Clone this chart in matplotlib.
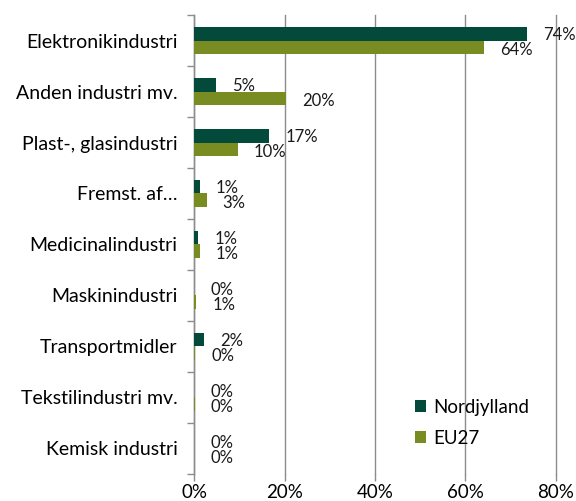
import matplotlib
matplotlib.use("Agg")
import matplotlib.pyplot as plt
import numpy as np
from matplotlib.ticker import FuncFormatter, FixedLocator

categories = ["Elektronikindustri", "Anden industri mv.", "Plast-, glasindustri",
              "Fremst. af…", "Medicinalindustri", "Maskinindustri",
              "Transportmidler", "Tekstilindustri mv.", "Kemisk industri"]
nordjylland = [73.6, 4.9, 16.6, 1.2, 0.9, 0.0, 2.2, 0.0, 0.0]
eu27 = [64.2, 20.4, 9.7, 2.8, 1.2, 0.5, 0.3, 0.2, 0.0]
nord_labels = ["74%", "5%", "17%", "1%", "1%", "0%", "2%", "0%", "0%"]
eu_labels = ["64%", "20%", "10%", "3%", "1%", "1%", "0%", "0%", "0%"]
xticks = [0, 20, 40, 60, 80]

plt.rcParams['font.family'] = ['Lato', 'DejaVu Sans']
dark = "#044A3A"
olive = "#798C22"
grid = "#8C8C8C"

fig = plt.figure(figsize=(5.76, 5.01), dpi=100)
ax = fig.add_axes([0.337, 0.054, 0.628, 0.916])

n = len(categories)
y = np.arange(n)
h = 0.27
ax.barh(y - h/2, nordjylland, height=h, color=dark, linewidth=0, label="Nordjylland", zorder=3)
ax.barh(y + h/2, eu27, height=h, color=olive, linewidth=0, label="EU27", zorder=3)

for i in range(n):
    ax.annotate(nord_labels[i], (nordjylland[i], y[i] - h/2 + 0.02), xytext=(11.5, 0),
                textcoords="offset points", va="center", ha="left", fontsize=12, color="#1a1a1a")
    ax.annotate(eu_labels[i], (eu27[i], y[i] + h/2 + 0.05), xytext=(11.5, 0),
                textcoords="offset points", va="center", ha="left", fontsize=12, color="#1a1a1a")

ax.set_xlim(0, 80)
ax.set_ylim(n - 0.5, -0.5)
ax.xaxis.set_major_locator(FixedLocator(xticks))
ax.xaxis.set_major_formatter(FuncFormatter(lambda v, p: f"{int(v)}%"))
ax.set_yticks(y)
ax.set_yticklabels(categories, fontsize=14)
ax.yaxis.set_minor_locator(FixedLocator(np.arange(-0.5, n, 1.0)))
ax.tick_params(axis="y", which="major", length=0, pad=12)
ax.tick_params(axis="y", which="minor", length=5, color=grid, width=1)
ax.tick_params(axis="x", length=5, color=grid, width=1, labelsize=13.5, pad=2)
ax.grid(axis="x", color=grid, linewidth=1, zorder=0)
for gl in ax.get_xgridlines():
    gl.set_clip_on(False)
for s in ["top", "right", "bottom"]:
    ax.spines[s].set_visible(False)
ax.spines["left"].set_color(grid)
ax.spines["left"].set_linewidth(1)

leg = ax.legend(loc="upper left", bbox_to_anchor=(0.59, 0.18), frameon=False, fontsize=13.5,
                handlelength=0.6, handleheight=0.6, handletextpad=0.35, labelspacing=0.75,
                borderaxespad=0)

fig.savefig("out.png", dpi=100)
